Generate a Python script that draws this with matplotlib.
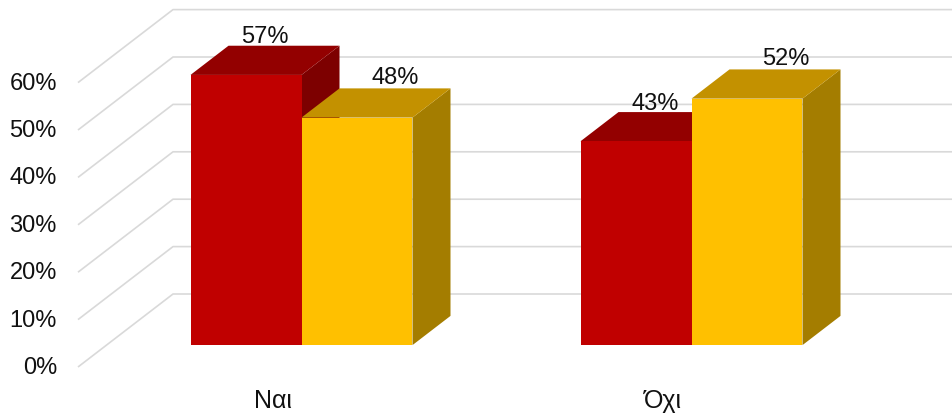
import matplotlib
matplotlib.use('Agg')
import matplotlib.pyplot as plt
from matplotlib.patches import Polygon

# ---- data ----
categories = ['Ναι', 'Όχι']
red_values = [57, 43]
yellow_values = [48, 52]
y_ticks = [0, 10, 20, 30, 40, 50, 60]
y_tick_labels = ['0%', '10%', '20%', '30%', '40%', '50%', '60%']

# ---- 3D-like projection parameters (data units) ----
DX = 0.2436      # x shift from front plane to back wall
DY = 15.4        # y shift (in % units) from front plane to back wall
D0, D1 = 0.3, 0.7  # depth range occupied by bars
W = 0.2846       # bar width
X_MIN, X_MAX = -0.5, 1.5

RED = ('#C00000', '#930000', '#7D0000')      # front, top, side
YEL = ('#FFC000', '#C39100', '#A47D00')

plt.rcParams['font.family'] = ['Liberation Sans', 'DejaVu Sans']

fig = plt.figure(figsize=(9.53, 4.14), dpi=100)
ax = fig.add_axes([0, 0, 1, 1])
ax.set_xlim(-0.7, 1.74359)
ax.set_ylim(-9.705, 77.637)
ax.axis('off')


def proj(x, y, d):
    return (x + d * DX, y + d * DY)


# gridlines: diagonal on the left wall + horizontal on the back wall
for v in y_ticks:
    pts = [proj(X_MIN, v, 0), proj(X_MIN, v, 1), proj(X_MAX, v, 1)]
    ax.plot([p[0] for p in pts], [p[1] for p in pts], color='#d9d9d9',
            lw=1.2, zorder=1, solid_capstyle='butt', clip_on=False)

for v, lab in zip(y_ticks, y_tick_labels):
    ax.text(X_MIN - 0.054, v, lab, ha='right', va='center',
            fontsize=17, color='#111111')


def draw_bar(xl, xr, v, cols, z):
    front, top, side = cols
    side_poly = [proj(xr, 0, D0), proj(xr, 0, D1), proj(xr, v, D1), proj(xr, v, D0)]
    top_poly = [proj(xl, v, D0), proj(xr, v, D0), proj(xr, v, D1), proj(xl, v, D1)]
    front_poly = [proj(xl, 0, D0), proj(xr, 0, D0), proj(xr, v, D0), proj(xl, v, D0)]
    for poly, c in ((side_poly, side), (top_poly, top), (front_poly, front)):
        ax.add_patch(Polygon(poly, closed=True, facecolor=c, edgecolor='none',
                             lw=0, zorder=z))


for i, cat in enumerate(categories):
    c = i
    draw_bar(c - W, c, red_values[i], RED, 2 + i * 2)
    draw_bar(c, c + W, yellow_values[i], YEL, 3 + i * 2)

    # data labels
    rx, ry = proj(c - W / 2, red_values[i], 0.5)
    ax.text(rx, red_values[i] + D1 * DY + 2.0, f'{red_values[i]}%',
            ha='center', va='center', fontsize=17, color='#111111', zorder=10)
    yx, yy = proj(c + W / 2, yellow_values[i], 0.5)
    ax.text(yx + 0.05, yellow_values[i] + D1 * DY + 2.5, f'{yellow_values[i]}%',
            ha='center', va='center', fontsize=17, color='#111111', zorder=10)

    # category labels
    ax.text(c, -8.4, cat, ha='center', va='baseline', fontsize=18,
            color='#111111')

fig.savefig('out.png', dpi=100)
